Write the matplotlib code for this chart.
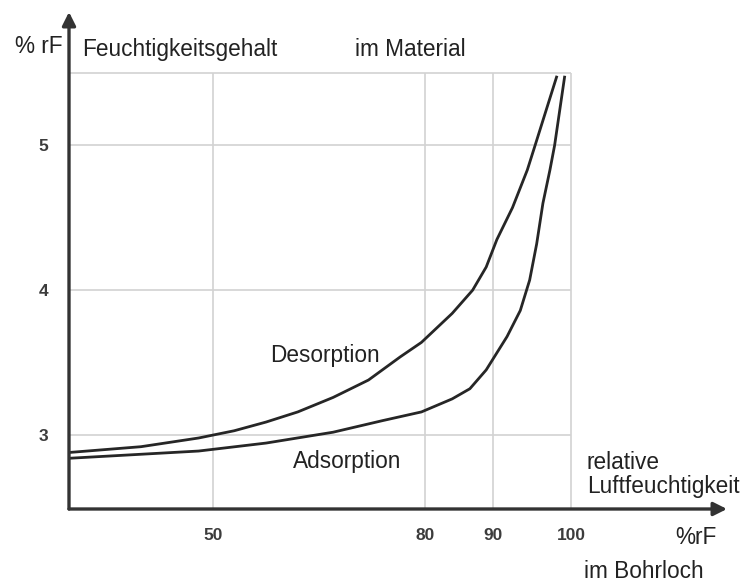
import numpy as np
import matplotlib
matplotlib.use("Agg")
import matplotlib.pyplot as plt

# Sorptionsisotherme - Feuchtigkeitsgehalt im Material vs. rel. Luftfeuchtigkeit im Bohrloch

desorption_rh = [30, 40, 48, 53, 57.5, 62, 67, 72, 76.5, 79.5, 84, 87, 89, 90.5, 92.5, 94.4, 95.4, 98.2]
desorption_mc = [2.88, 2.92, 2.98, 3.03, 3.09, 3.16, 3.26, 3.38, 3.54, 3.64, 3.84, 4.0, 4.16, 4.35,
                 4.57, 4.83, 5.0, 5.48]

adsorption_rh = [30, 48, 57.5, 67, 74, 79.5, 84, 86.6, 89, 91.8, 93.5, 94.7, 95.6, 96.4, 97.3, 97.9, 99.2]
adsorption_mc = [2.84, 2.89, 2.945, 3.02, 3.10, 3.16, 3.25, 3.32, 3.45, 3.68, 3.86, 4.07, 4.32, 4.60,
                 4.83, 5.0, 5.48]

x_ticks = [50, 80, 90, 100]
y_ticks = [3, 4, 5]

# the hand drawn axis is not quite linear, so map the ticks onto their drawn spots
x_anchor_vals = [30, 50, 80, 90, 100, 120]
x_anchor_pos = [69, 213, 425, 493, 571, 727]

W, H = 744, 585
FONT = "Liberation Sans"
TXT = "#222222"
GRID = "#d2d2d2"
AXIS = "#333333"


def fwd(v):
    return np.interp(v, x_anchor_vals, x_anchor_pos)


def inv(p):
    return np.interp(p, x_anchor_pos, x_anchor_vals)


def px(x, y):
    # pixel position -> figure fraction
    return x / W, 1 - y / H


fig = plt.figure(figsize=(W / 100, H / 100), dpi=100)
ax = fig.add_axes([69 / W, (H - 509) / H, (727 - 69) / W, (509 - 12) / H])
ax.set_xscale("function", functions=(fwd, inv))
ax.set_xlim(30, 120)
ax.set_ylim(2.49, 5.92)

# grid box
ax.hlines(y_ticks + [5.5], 30, 100, color=GRID, lw=1.2, zorder=1)
ax.vlines(x_ticks, 2.49, 5.5, color=GRID, lw=1.2, zorder=1)

ax.plot(desorption_rh, desorption_mc, color="#262626", lw=2.0, zorder=3, solid_capstyle="butt",
        solid_joinstyle="round")
ax.plot(adsorption_rh, adsorption_mc, color="#262626", lw=2.0, zorder=3, solid_capstyle="butt",
        solid_joinstyle="round")

# axes with arrow heads
arrow = dict(arrowstyle="-|>", lw=2.4, color=AXIS, mutation_scale=20, shrinkA=0, shrinkB=0)
ax.annotate("", xy=(30, 5.92), xytext=(30, 2.49), arrowprops=arrow, annotation_clip=False)
ax.annotate("", xy=(120, 2.49), xytext=(30, 2.49), arrowprops=arrow, annotation_clip=False)

for s in ax.spines.values():
    s.set_visible(False)
ax.set_xticks(x_ticks)
ax.set_yticks(y_ticks)
ax.set_xticklabels([str(t) for t in x_ticks])
ax.set_yticklabels([str(t) for t in y_ticks])
ax.tick_params(length=0, labelsize=12.5, labelcolor="#3c3c3c")
ax.tick_params(axis="x", pad=14)
ax.tick_params(axis="y", pad=15)
for lab in ax.get_xticklabels() + ax.get_yticklabels():
    lab.set_fontfamily(FONT)
    lab.set_fontweight("bold")
ax.patch.set_alpha(0)

labels = [
    ("% rF", 15, 53, "left"),
    ("Feuchtigkeitsgehalt", 82, 56, "left"),
    ("im Material", 466, 56, "right"),
    ("Desorption", 270, 362, "left"),
    ("Adsorption", 293, 468, "left"),
    ("relative", 587, 469, "left"),
    ("Luftfeuchtigkeit", 587, 493, "left"),
    ("%rF", 675, 544, "left"),
    ("im Bohrloch", 584, 578, "left"),
]
for text, x, y, ha in labels:
    fx, fy = px(x, y)
    fig.text(fx, fy, text, ha=ha, va="baseline", fontsize=16.3, family=FONT, color=TXT)

fig.savefig("out.png", dpi=100, facecolor="white")
